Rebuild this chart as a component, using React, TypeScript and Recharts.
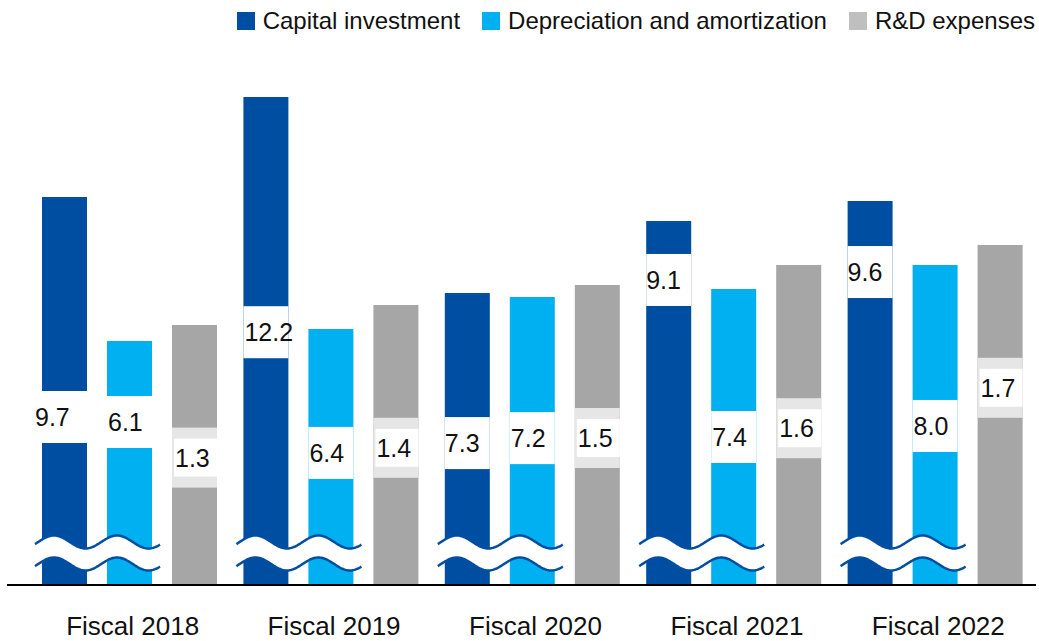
import { BarChart, Bar, XAxis, YAxis, Legend } from 'recharts';

const years = ['Fiscal 2018', 'Fiscal 2019', 'Fiscal 2020', 'Fiscal 2021', 'Fiscal 2022'];
const capitalInvestment = [9.7, 12.2, 7.3, 9.1, 9.6];
const depreciation = [6.1, 6.4, 7.2, 7.4, 8.0];
const rdExpenses = [1.3, 1.4, 1.5, 1.6, 1.7];

const chartData = years.map((year, i) => ({
  year,
  capital: capitalInvestment[i],
  dep: depreciation[i],
  rd: rdExpenses[i],
}));

// where the value box sits along each bar (share of bar height, from the bottom)
const capLabelPos = [0.433, 0.518, 0.486, 0.838, 0.815];
const depLabelPos = [0.668, 0.516, 0.51, 0.5, 0.497];
const rdLabelPos = [0.49, 0.49, 0.49, 0.49, 0.58];
const capLabelDx = [-7, 1, 0, 0, 0];

const FONT = '"Liberation Sans", Arial, Helvetica, sans-serif';
const CAP_COLOR = '#004EA2';
const DEP_COLOR = '#00B0F0';
const RD_COLOR = '#A6A6A6';

const BAR_SIZE = 45;
const BAR_GAP = 20;

const legendItems = [
  { name: 'Capital investment', color: CAP_COLOR },
  { name: 'Depreciation and amortization', color: DEP_COLOR },
  { name: 'R&D expenses', color: '#BFBFBF' },
];

const wavePoints = (x0: number, mid: number) => {
  const pts: [number, number][] = [];
  for (let x = x0; x <= x0 + 125; x += 1) {
    pts.push([x, mid - 6.5 * Math.cos((2 * Math.PI * (x - x0 - 19)) / 63)]);
  }
  return pts;
};

const makeShape = (values: number[], pos: number[], kind: 'cap' | 'dep' | 'rd') => (props: any) => {
  const { x, y, width, height, index, fill } = props;
  const base = y + height;
  const yc = base - height * pos[index];
  const value = values[index];
  const dx = kind === 'cap' ? capLabelDx[index] : kind === 'rd' ? 3 : 1;

  let wave = null;
  if (kind === 'dep') {
    const x0 = x - BAR_SIZE - BAR_GAP - 7;
    const upper = wavePoints(x0, base - 43);
    const lower = wavePoints(x0, base - 21);
    const fillPath =
      'M' + upper.map(p => `${p[0]},${p[1]}`).join('L') +
      'L' + lower.slice().reverse().map(p => `${p[0]},${p[1]}`).join('L') + 'Z';
    wave = (
      <g>
        <path d={fillPath} fill="#fff" stroke="none" />
        <path d={'M' + upper.map(p => `${p[0]},${p[1]}`).join('L')} fill="none" stroke={CAP_COLOR} strokeWidth={2.5} />
        <path d={'M' + lower.map(p => `${p[0]},${p[1]}`).join('L')} fill="none" stroke={CAP_COLOR} strokeWidth={2.5} />
      </g>
    );
  }

  return (
    <g>
      <rect x={x} y={y} width={width} height={height} fill={fill} />
      {kind === 'rd' ? (
        <g>
          <rect x={x} y={yc - 30} width={width} height={60} fill="#E6E6E6" />
          <rect x={x + 2} y={yc - 19} width={width - 2} height={38} fill="#fff" />
        </g>
      ) : (
        <rect x={x} y={yc - 26} width={width} height={52} fill="#fff" />
      )}
      <text
        x={x + dx}
        y={yc}
        dy="0.36em"
        textAnchor="start"
        fontFamily={FONT}
        fontSize={25}
        fill="#111"
      >
        {value.toFixed(1)}
      </text>
      {wave}
    </g>
  );
};

const CapShape = makeShape(capitalInvestment, capLabelPos, 'cap');
const DepShape = makeShape(depreciation, depLabelPos, 'dep');
const RdShape = makeShape(rdExpenses, rdLabelPos, 'rd');

const YearTick = ({ x, y, payload }: any) => (
  <text x={x + 3} y={y} dy={50} textAnchor="middle" fontFamily={FONT} fontSize={26} fill="#111">
    {payload.value}
  </text>
);

const LegendContent = () => (
  <div
    style={{
      display: 'flex',
      justifyContent: 'flex-end',
      alignItems: 'center',
      height: 42,
      paddingRight: 4,
      fontFamily: FONT,
      fontSize: 24,
      color: '#111',
    }}
  >
    {legendItems.map(item => (
      <div key={item.name} style={{ display: 'flex', alignItems: 'center', marginLeft: 22 }}>
        <span style={{ width: 18, height: 18, background: item.color, marginRight: 8, display: 'inline-block' }} />
        <span style={{ whiteSpace: 'nowrap' }}>{item.name}</span>
      </div>
    ))}
  </div>
);

const App = () => {
  return (
    <div style={{ position: 'absolute', left: 0, top: 0, background: '#fff' }}>
      <BarChart
        width={1039}
        height={641}
        data={chartData}
        margin={{ top: 25, right: 3, bottom: 0, left: 7 }}
        barSize={BAR_SIZE}
        barGap={BAR_GAP}
      >
        <XAxis
          dataKey="year"
          height={56}
          padding={{ left: 22, right: 0 }}
          tickLine={false}
          tickSize={0}
          tickMargin={0}
          axisLine={{ stroke: '#000', strokeWidth: 2 }}
          tick={<YearTick />}
          interval={0}
        />
        <YAxis yAxisId="main" domain={[0, 14]} hide />
        <YAxis yAxisId="rd" domain={[0, 2.8]} hide orientation="right" />
        <Legend verticalAlign="middle" wrapperStyle={{ top: 0, left: 0, width: 1039 }} content={<LegendContent />} />
        <Bar dataKey="capital" yAxisId="main" fill={CAP_COLOR} shape={CapShape} isAnimationActive={false} />
        <Bar dataKey="dep" yAxisId="main" fill={DEP_COLOR} shape={DepShape} isAnimationActive={false} />
        <Bar dataKey="rd" yAxisId="rd" fill={RD_COLOR} shape={RdShape} isAnimationActive={false} />
      </BarChart>
    </div>
  );
};

export default App;
